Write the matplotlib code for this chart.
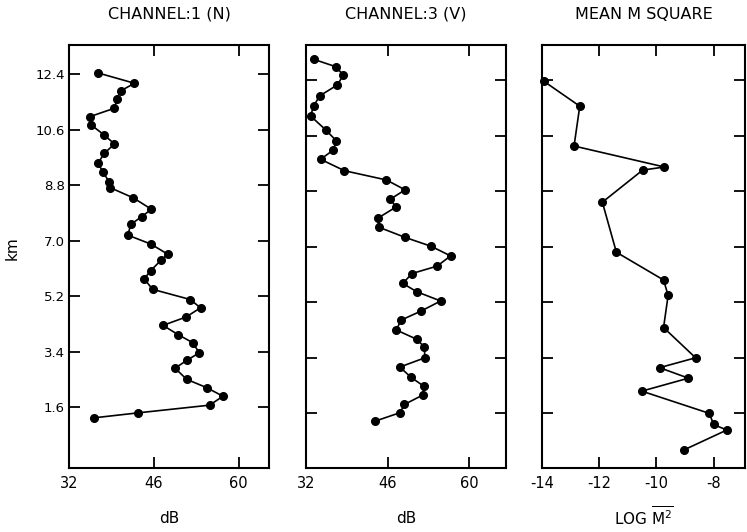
import matplotlib.pyplot as plt

# depth (km) and level
ch1_km = [12.45, 12.11, 11.86, 11.59, 11.30, 11.03, 10.75, 10.43, 10.14, 9.83,
          9.52, 9.22, 8.92, 8.72, 8.39, 8.02, 7.78, 7.53, 7.18, 6.89,
          6.56, 6.37, 6.03, 5.76, 5.42, 5.09, 4.82, 4.52, 4.25, 3.95,
          3.69, 3.36, 3.11, 2.86, 2.50, 2.23, 1.95, 1.66, 1.41, 1.25]
ch1_db = [36.7, 42.8, 40.5, 39.9, 39.5, 35.5, 35.7, 37.8, 39.5, 37.8,
          36.8, 37.6, 38.6, 38.8, 42.6, 45.6, 44.0, 42.2, 41.7, 45.5,
          48.3, 47.2, 45.5, 44.4, 45.8, 52.0, 53.7, 51.3, 47.5, 50.0,
          52.4, 53.5, 51.4, 49.5, 51.4, 54.7, 57.4, 55.2, 43.4, 36.2]

ch3_km = [13.07, 12.83, 12.56, 12.24, 11.89, 11.56, 11.23, 10.78, 10.43, 10.13,
          9.83, 9.46, 9.16, 8.84, 8.53, 8.29, 7.92, 7.63, 7.30, 7.01,
          6.70, 6.37, 6.13, 5.81, 5.54, 5.24, 4.91, 4.62, 4.30, 4.00,
          3.75, 3.40, 3.10, 2.77, 2.48, 2.19, 1.89, 1.62, 1.35]
ch3_db = [33.3, 37.1, 38.4, 37.4, 34.4, 33.3, 32.8, 35.4, 37.2, 36.7,
          34.5, 38.6, 45.8, 49.0, 46.4, 47.5, 44.3, 44.5, 49.0, 53.5,
          56.8, 54.5, 50.2, 48.6, 51.0, 55.1, 51.7, 48.3, 47.5, 51.0,
          52.3, 52.4, 48.1, 50.0, 52.2, 52.0, 48.9, 48.1, 43.9]

msq_km = [12.36, 11.55, 10.26, 9.58, 9.48, 8.44, 6.82, 5.92, 5.42, 4.38,
          3.40, 3.08, 2.74, 2.32, 1.60, 1.24, 1.06, 0.41]
msq_log = [-13.94, -12.68, -12.88, -9.72, -10.48, -11.89, -11.40, -9.75, -9.59, -9.75,
           -8.63, -9.89, -8.88, -10.51, -8.15, -8.00, -7.54, -9.05]

km_ticks = [1.6, 3.4, 5.2, 7.0, 8.8, 10.6, 12.4]
km_labels = ["1.6", "3.4", "5.2", "7.0", "8.8", "10.6", "12.4"]
db_ticks = [32, 46, 60]
log_ticks = [-14, -12, -10, -8]
log_labels = ["-14", "-12", "-10", "-8"]

fig = plt.figure(figsize=(7.47, 5.32), dpi=100)

ax1 = fig.add_axes([0.0924, 0.1203, 0.2677, 0.795])
ax2 = fig.add_axes([0.4096, 0.1203, 0.2677, 0.795])
ax3 = fig.add_axes([0.7256, 0.1203, 0.2718, 0.795])

ax1.plot(ch1_db, ch1_km, "-o", color="black", lw=1.2, ms=5.5)
ax2.plot(ch3_db, ch3_km, "-o", color="black", lw=1.2, ms=5.5)
ax3.plot(msq_log, msq_km, "-o", color="black", lw=1.2, ms=5.5, clip_on=False)

ax1.set_xlim(32, 65)
ax2.set_xlim(32, 66.3)
ax3.set_xlim(-14, -6.9)
ax1.set_ylim(-0.38, 13.35)
ax2.set_ylim(-0.17, 13.53)
ax3.set_ylim(-0.17, 13.53)

for ax in (ax1, ax2):
    ax.set_xticks(db_ticks)
    ax.set_xticklabels([str(t) for t in db_ticks])
    ax.set_xlabel("dB", fontsize=11, labelpad=14)
ax3.set_xticks(log_ticks)
ax3.set_xticklabels(log_labels)
ax3.set_xlabel(r"LOG $\overline{\mathrm{M}^2}$", fontsize=11, labelpad=10)

for ax in (ax1, ax2, ax3):
    ax.set_yticks(km_ticks)
    ax.tick_params(direction="in", length=8, width=1.3, top=True, right=True,
                   labelsize=10.5, pad=6)
    for s in ax.spines.values():
        s.set_linewidth(1.5)
ax1.set_yticklabels(km_labels, fontsize=9.5)
ax1.tick_params(axis="y", pad=3)
ax2.set_yticklabels([])
ax3.set_yticklabels([])
ax1.set_ylabel("km", fontsize=11)
ax1.yaxis.set_label_coords(-0.245, 0.52)

ax1.set_title("CHANNEL:1 (N)", fontsize=11.5, pad=19)
ax2.set_title("CHANNEL:3 (V)", fontsize=11.5, pad=19)
ax3.set_title("MEAN M SQUARE", fontsize=11.5, pad=19)

plt.savefig("out.png", dpi=100)
